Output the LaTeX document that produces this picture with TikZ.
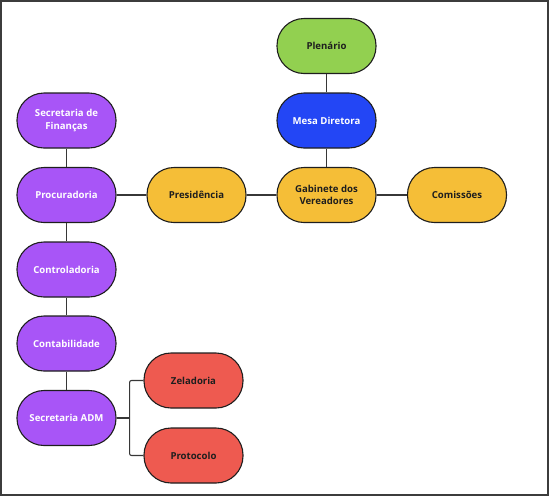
\documentclass[tikz,border=0pt]{standalone}
\usepackage{fontspec}
\setmainfont{Open Sans}
\usepackage{tikz}
\usetikzlibrary{positioning,calc}
\definecolor{CamVerde}{RGB}{146,208,80}
\definecolor{CamAzul}{RGB}{35,70,245}
\definecolor{CamRoxo}{RGB}{168,85,247}
\definecolor{CamAmarelo}{RGB}{245,190,55}
\definecolor{CamVermelho}{RGB}{238,90,80}
\definecolor{CamTraco}{RGB}{30,30,30}
\definecolor{CamLinha}{RGB}{55,55,55}
\definecolor{CamMoldura}{RGB}{60,60,60}
\tikzset{
  caixa/.style={draw=CamTraco, line width=1.1pt, rounded corners=27pt,
                minimum width=99pt, minimum height=55pt, inner sep=2pt,
                align=center, font=\fontsize{9.6}{12.5}\selectfont\bfseries},
  caixaroxa/.style={caixa, fill=CamRoxo, text=white},
  caixaamarela/.style={caixa, fill=CamAmarelo, text=CamTraco},
  caixavermelha/.style={caixa, fill=CamVermelho, text=CamTraco},
  linha/.style={draw=CamLinha, line width=1.1pt},
}
\begin{document}
\begin{tikzpicture}[x=1pt, y=-1pt]
  % moldura
  \draw[CamMoldura, line width=2pt] (1,1) rectangle (548,495);
  \useasboundingbox (0,0) rectangle (549,496);

  % topo
  \node[caixa, fill=CamVerde, text=CamTraco] (plenario) at (326.5,46) {Plenário};
  \node[caixa, fill=CamAzul, text=white] (mesa) at (326.5,120.5) {Mesa Diretora};

  % linha central
  \node[caixaroxa] (procuradoria) at (66.5,195) {Procuradoria};
  \node[caixaamarela] (presidencia) at (196.5,195) {Presidência};
  \node[caixaamarela] (gabinete) at (326.5,195) {Gabinete dos\\Vereadores};
  \node[caixaamarela] (comissoes) at (457,195) {Comissões};

  % coluna da esquerda
  \node[caixaroxa] (financas) at (66.5,120.5) {Secretaria de\\Finanças};
  \node[caixaroxa] (controladoria) at (66.5,269.5) {Controladoria};
  \node[caixaroxa] (contabilidade) at (66.5,343.5) {Contabilidade};
  \node[caixaroxa] (secadm) at (66.5,418) {Secretaria ADM};

  % setores ligados à secretaria ADM
  \node[caixavermelha] (zeladoria) at (193.5,380.5) {Zeladoria};
  \node[caixavermelha] (protocolo) at (193.5,455.5) {Protocolo};

  \coordinate (ramo) at ($(secadm.east)+(13,0)$);

  \draw[linha] (plenario) -- (mesa);
  \draw[linha] (mesa) -- (gabinete);
  \draw[linha] (procuradoria) -- (presidencia);
  \draw[linha] (presidencia) -- (gabinete);
  \draw[linha] (gabinete) -- (comissoes);
  \draw[linha] (financas) -- (procuradoria);
  \draw[linha] (procuradoria) -- (controladoria);
  \draw[linha] (controladoria) -- (contabilidade);
  \draw[linha] (contabilidade) -- (secadm);
  \draw[linha] (secadm.east) -- (ramo);
  \draw[linha, rounded corners=2pt] (zeladoria.west) -| (ramo) |- (protocolo.west);
\end{tikzpicture}
\end{document}
